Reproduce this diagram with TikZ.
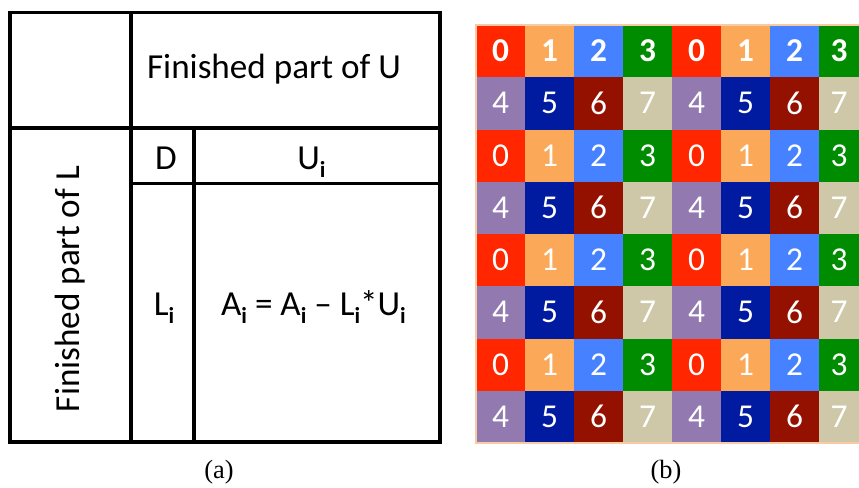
\documentclass[tikz,border=0pt]{standalone}
\usepackage{fontspec}
\setmainfont{Carlito}
\newfontfamily\capfont{Liberation Serif}
\usetikzlibrary{positioning}
\definecolor{C0}{HTML}{FF2600}
\definecolor{C1}{HTML}{FBA858}
\definecolor{C2}{HTML}{4682FF}
\definecolor{C3}{HTML}{008C00}
\definecolor{C4}{HTML}{927AB0}
\definecolor{C5}{HTML}{001AA0}
\definecolor{C6}{HTML}{941100}
\definecolor{C7}{HTML}{CEC8A8}
\definecolor{Edge}{HTML}{F9CBA4}
\newcommand{\sub}{\raisebox{-0.25em}{\fontsize{13}{13}\selectfont\bfseries i}}

\begin{document}
\begin{tikzpicture}[x=0.02cm,y=-0.02cm,
  rule/.style={line width=2pt,draw=black},
  lbl/.style={font=\fontsize{20}{24}\selectfont,inner sep=0pt,anchor=base},
  num/.style={font=\fontsize{19}{22}\selectfont,text=white,inner sep=0pt},
  captext/.style={font=\capfont\fontsize{15}{17}\selectfont,inner sep=0pt,anchor=base}
]
\useasboundingbox (0,0) rectangle (859,487);
% (a) blocked factorisation
\draw[rule] (10,12.5) rectangle (440,442);
\draw[rule] (10,128) -- (440,128);
\draw[rule] (131,12.5) -- (131,442);
\draw[rule] (194,128) -- (194,442);
\draw[rule] (131,183.5) -- (440,183.5);
\node[lbl] (finU) at (274,78) {Finished part of U};
\node[lbl,rotate=90] (finL) at (79,289) {Finished part of L};
\node[lbl] (D) at (166,169) {D};
\node[lbl] (Ui) at (311.5,169) {U\sub};
\node[lbl] (Li) at (164,315) {L\sub};
\node[lbl] (Ai) at (313.5,315) {A\sub{} = A\sub{} – L\sub*U\sub};
\node[captext] (capa) at (219,478) {(a)};
% (b) cyclic distribution
\foreach \r in {0,...,7} {
  \foreach \c in {0,...,7} {
    \pgfmathtruncatemacro{\n}{mod(\r,2)*4+mod(\c,4)}
    \pgfmathsetmacro{\xa}{476+49*\c}
    \pgfmathsetmacro{\xb}{min(\xa+49,859)}
    \pgfmathsetmacro{\ya}{25+52.25*\r}
    \fill[C\n] (\xa,\ya) rectangle (\xb,\ya+52.25);
    \ifnum\r=0
      \node[num,font=\fontsize{19}{22}\selectfont\bfseries] (p\r\c) at ({(\xa+\xb)/2},\ya+26) {\n};
    \else
      \node[num] (p\r\c) at ({(\xa+\xb)/2},\ya+26) {\n};
    \fi
  }
}
\draw[Edge,line width=0.8pt] (859,25) -- (476,25) -- (476,443) -- (859,443);
\node[captext] (capb) at (666,478) {(b)};
\end{tikzpicture}
\end{document}
